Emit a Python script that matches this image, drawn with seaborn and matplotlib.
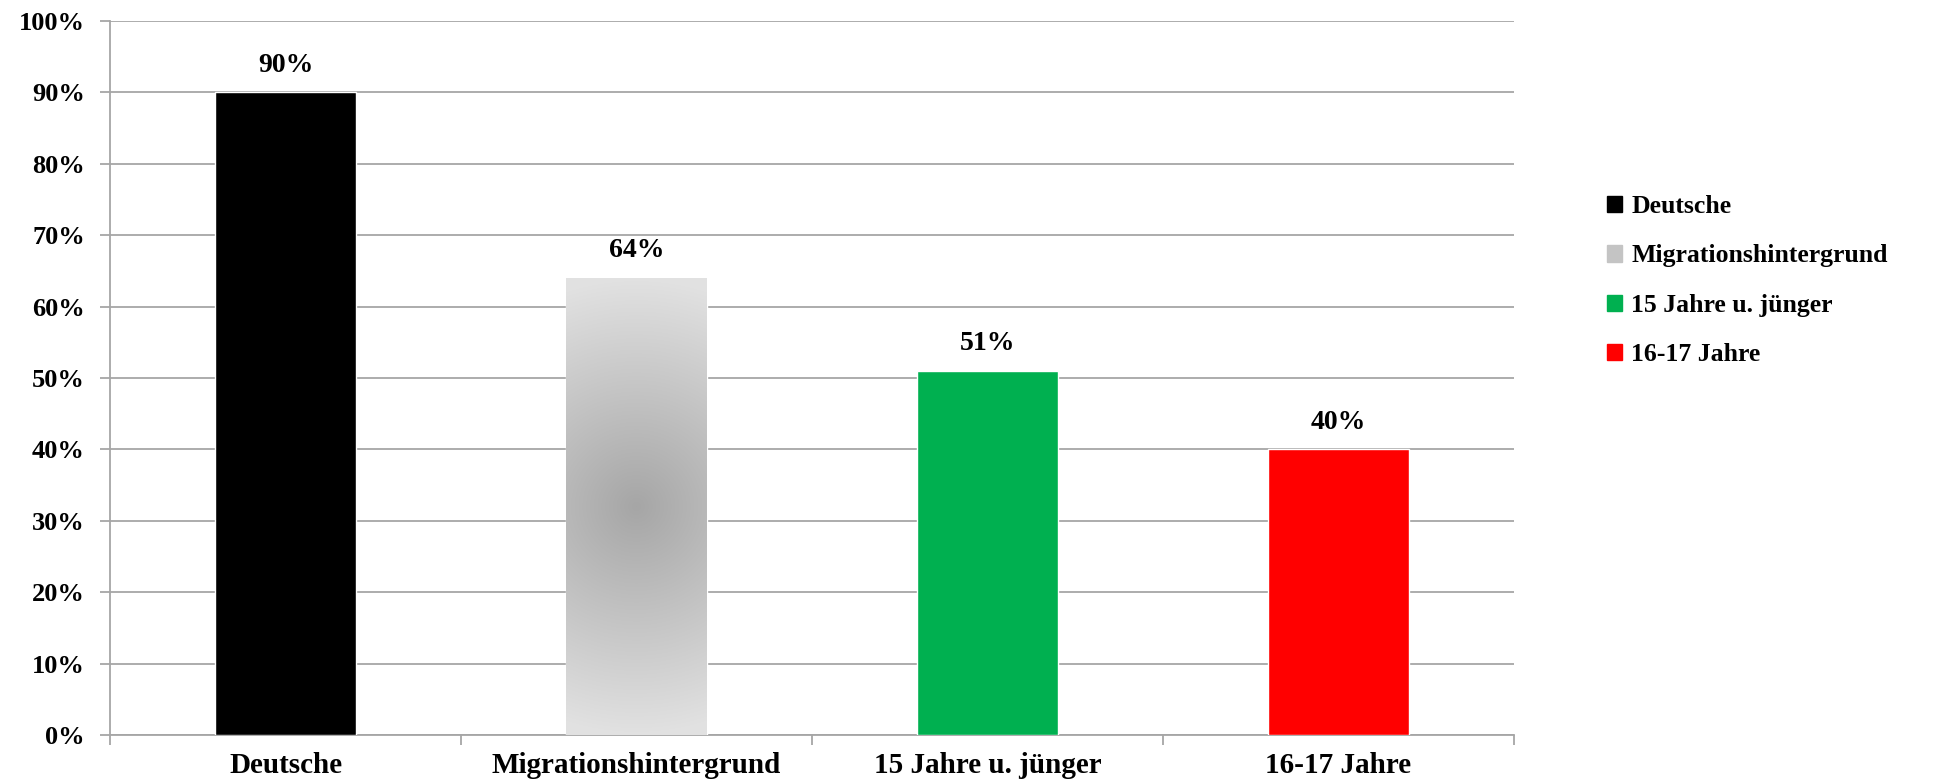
import numpy as np
import pandas as pd
import matplotlib
matplotlib.use("Agg")
import matplotlib.pyplot as plt
import matplotlib.patches as mpatches
from matplotlib.ticker import FixedLocator, PercentFormatter
import seaborn as sns

# Werte aus dem Diagramm
kategorien = ["Deutsche", "Migrationshintergrund", "15 Jahre u. jünger", "16-17 Jahre"]
anteile = [0.90, 0.64, 0.51, 0.40]
farben = ["#000000", "#c4c4c4", "#00b050", "#ff0000"]

daten = pd.DataFrame({"Gruppe": kategorien, "Anteil": anteile})

sns.set_theme(style="white")
plt.rcParams["font.family"] = ["Liberation Serif", "DejaVu Serif"]
plt.rcParams["font.weight"] = "bold"
plt.rcParams["text.color"] = "black"

fig = plt.figure(figsize=(19.36, 7.84), dpi=100)
ax = fig.add_axes([110 / 1936, 1 - 735 / 784, (1514 - 110) / 1936, (735 - 21) / 784])

sns.barplot(data=daten, x="Gruppe", y="Anteil", hue="Gruppe", palette=farben,
            width=0.4, legend=False, ax=ax, saturation=1, zorder=3)

ax.set_ylim(0, 1)
ax.set_xlim(-0.5, 3.5)
ax.yaxis.set_major_locator(FixedLocator(np.arange(0, 1.01, 0.1)))
ax.yaxis.set_major_formatter(PercentFormatter(1.0, decimals=0))
ax.grid(axis="y", color="#a6a6a6", linewidth=1.3, zorder=0)
ax.set_axisbelow(True)

for s in ["top", "right"]:
    ax.spines[s].set_visible(False)
for s in ["left", "bottom"]:
    ax.spines[s].set_color("#a6a6a6")
    ax.spines[s].set_linewidth(1.3)

ax.tick_params(axis="y", length=7, width=1.3, color="#a6a6a6", direction="out",
               labelsize=19, pad=11, left=True, labelcolor="black")
ax.tick_params(axis="x", which="major", length=0, labelsize=21, pad=12, labelcolor="black")
ax.set_xticks(np.arange(-0.5, 3.6, 1), minor=True)
ax.tick_params(axis="x", which="minor", length=7, width=1.3, color="#a6a6a6",
               direction="out", bottom=True)
for lbl in ax.get_xticklabels() + ax.get_yticklabels():
    lbl.set_fontweight("bold")
ax.set_xlabel("")
ax.set_ylabel("")

# Verlauf für den Balken "Migrationshintergrund"
balken = ax.patches[1]
bx, bw, bh = balken.get_x(), balken.get_width(), balken.get_height()
breite_px = bw / 4 * 1404
hoehe_px = bh * 714
u = np.linspace(-breite_px / 2, breite_px / 2, 120)
v = np.linspace(-hoehe_px / 2, hoehe_px / 2, 400)
U, V = np.meshgrid(u, v)
r = np.clip(np.sqrt(U ** 2 + V ** 2) / (hoehe_px / 2), 0, 1)
grau = 0.65 + (0.885 - 0.65) * r
bild = np.dstack([grau, grau, grau])
balken.set_facecolor("none")
im = ax.imshow(bild, extent=(bx, bx + bw, 0, bh), aspect="auto", zorder=3,
               interpolation="bilinear")
im.set_clip_path(balken)
ax.set_aspect("auto")
ax.set_xlim(-0.5, 3.5)
ax.set_ylim(0, 1)

# Werte über den Balken
for i, wert in enumerate(anteile):
    ax.text(i, wert + 0.038, f"{wert:.0%}", ha="center", va="center",
            fontsize=20, fontweight="bold", color="black")

# Legende rechts
griffe = [mpatches.Patch(color=f) for f in farben]
fig.legend(griffe, kategorien, loc="upper left", bbox_to_anchor=(1607 / 1936, 1 - 195 / 784),
           frameon=False, prop={"weight": "bold", "size": 18.5},
           handlelength=0.6, handleheight=0.6, handletextpad=0.35,
           labelspacing=1.03, borderpad=0, borderaxespad=0)

plt.savefig("out.png", dpi=100, facecolor="white")
